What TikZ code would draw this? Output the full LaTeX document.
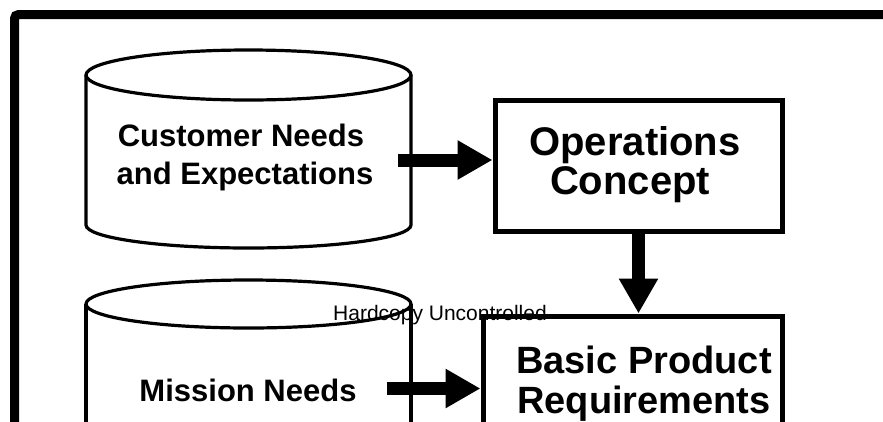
\documentclass[tikz,border=0pt]{standalone}
\usepackage{fontspec}
\setmainfont{Liberation Sans}
\usetikzlibrary{arrows.meta}
\tikzset{
  cyltext/.style={font=\fontsize{31}{37}\selectfont\bfseries, anchor=base, inner sep=0pt},
  boxtext/.style={font=\fontsize{40}{46}\selectfont\bfseries, anchor=base, inner sep=0pt},
  boxtextb/.style={font=\fontsize{38}{44}\selectfont\bfseries, anchor=base, inner sep=0pt},
  boxshape/.style={draw, line width=5pt, inner sep=0pt},
  flow/.style={line width=13pt, -{Triangle[length=35pt,width=37pt]}},
  cylline/.style={line width=3.2pt},
  framestyle/.style={line width=9pt, rounded corners=4pt},
  notetext/.style={font=\fontsize{21}{25}\selectfont, anchor=base, inner sep=0pt}
}
\begin{document}
\begin{tikzpicture}[x=1pt, y=-1pt]
\useasboundingbox (0,0) rectangle (883,421);
\clip (0,0) rectangle (883,421);
% outer frame
\draw[framestyle] (14.5,460) -- (14.5,14.5) -- (920,14.5);
% cylinder 1
\draw[cylline] (248.5,75) ellipse [x radius=162.5pt, y radius=25pt];
\draw[cylline] (86,75) -- (86,225) arc[start angle=180, end angle=360, x radius=162.5pt, y radius=23pt] -- (411,75);
% cylinder 2
\draw[cylline] (248.5,304) ellipse [x radius=162.5pt, y radius=24pt];
\draw[cylline] (86,304) -- (86,450);
\draw[cylline] (411,304) -- (411,450);
% boxes
\node[boxshape, minimum width=287pt, minimum height=131pt] (box1) at (638.5,165.5) {};
\node[boxshape, minimum width=299pt, minimum height=150pt] (box2) at (632.5,391) {};
% texts
\node[cyltext] (c1a) at (241,146) {Customer Needs};
\node[cyltext] (c1b) at (245,184) {and Expectations};
\node[cyltext] (c2a) at (248,401) {Mission Needs};
\node[boxtext] (b1a) at (635,155) {Operations};
\node[boxtext] (b1b) at (630,194) {Concept};
\node[boxtextb] (b2a) at (644,373) {Basic Product};
\node[boxtextb] (b2b) at (644,413) {Requirements};
% connectors
\coordinate (a1) at (398,160);
\coordinate (a3) at (387,388.5);
\draw[flow] (a1) -- (a1 -| box1.west);
\draw[flow] (box1.south) -- (box1.south |- box2.north);
\draw[flow] (a3) -- (a3 -| box2.west);
% watermark
\node[notetext] (hc) at (440,320) {Hardcopy Uncontrolled};
\end{tikzpicture}
\end{document}
